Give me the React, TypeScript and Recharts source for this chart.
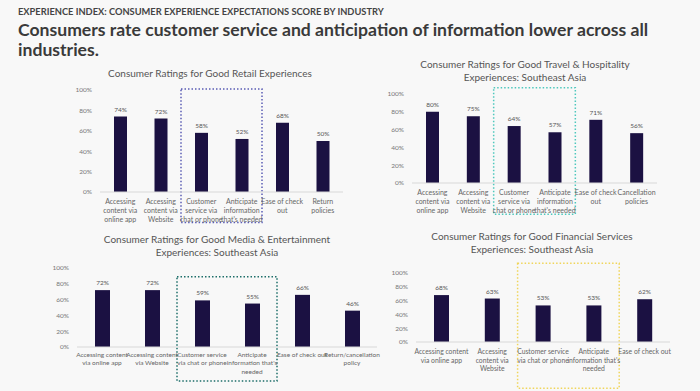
import { BarChart, Bar, XAxis, YAxis, LabelList, ReferenceArea } from "recharts";

const header = "EXPERIENCE INDEX: CONSUMER EXPERIENCE EXPECTATIONS SCORE BY INDUSTRY";
const headline = [
  "Consumers rate customer service and anticipation of information lower across all",
  "industries.",
];

const yTicks = [0, 20, 40, 60, 80, 100];

const retailTitle = ["Consumer Ratings for Good Retail Experiences"];
const retailCategories = [
  "Accessing\ncontent via\nonline app",
  "Accessing\ncontent via\nWebsite",
  "Customer\nservice via\nchat or phone",
  "Anticipate\ninformation\nthat's needed",
  "Ease of check\nout",
  "Return\npolicies",
];
const retailValues = [74, 72, 58, 52, 68, 50];

const travelTitle = ["Consumer Ratings for Good Travel & Hospitality", "Experiences: Southeast Asia"];
const travelCategories = [
  "Accessing\ncontent via\nonline app",
  "Accessing\ncontent via\nWebsite",
  "Customer\nservice via\nchat or phone",
  "Anticipate\ninformation\nthat's needed",
  "Ease of check\nout",
  "Cancellation\npolicies",
];
const travelValues = [80, 75, 64, 57, 71, 56];

const mediaTitle = ["Consumer Ratings for Good Media & Entertainment", "Experiences: Southeast Asia"];
const mediaCategories = [
  "Accessing content\nvia online app",
  "Accessing content\nvia Website",
  "Customer service\nvia chat or phone",
  "Anticipate\ninformation that's\nneeded",
  "Ease of check out",
  "Return/cancellation\npolicy",
];
const mediaValues = [72, 72, 59, 55, 66, 46];

const financeTitle = ["Consumer Ratings for Good Financial Services", "Experiences: Southeast Asia"];
const financeCategories = [
  "Accessing content\nvia online app",
  "Accessing\ncontent via\nWebsite",
  "Customer service\nvia chat or phone",
  "Anticipate\ninformation that's\nneeded",
  "Ease of check out",
];
const financeValues = [68, 63, 53, 53, 62];

const FONT = "Lato, 'Open Sans', sans-serif";
const BAR_COLOR = "#1b1142";

interface PanelProps {
  title: string[];
  categories: string[];
  values: number[];
  left: number;
  top: number;
  width: number;
  height: number;
  margin: { top: number; right: number; left: number; bottom: number };
  xHeight: number;
  barSize: number;
  tickOffset: number;
  lineGap: number;
  tickFont: number;
  boxColor: string;
  boxY: [number, number];
  titleX: number;
  titleY: number;
}

function Panel(p: PanelProps) {
  const data = p.categories.map((c, i) => ({ name: c, value: p.values[i] }));

  const CatTick = ({ x, y, payload }: any) => {
    const lines = String(payload.value).split("\n");
    return (
      <text x={x} y={y + p.tickOffset} textAnchor="middle" fontSize={p.tickFont} fill="#666" fontFamily={FONT}>
        {lines.map((l, i) => (
          <tspan key={i} x={x} dy={i === 0 ? 0 : p.lineGap}>
            {l}
          </tspan>
        ))}
      </text>
    );
  };

  return (
    <>
      <div
        style={{
          position: "absolute",
          left: p.titleX - 150,
          top: p.titleY,
          width: 300,
          textAlign: "center",
          fontFamily: FONT,
          fontSize: 10,
          lineHeight: "13px",
          color: "#555",
        }}
      >
        {p.title.map((t, i) => (
          <div key={i}>{t}</div>
        ))}
      </div>
      <div style={{ position: "absolute", left: p.left, top: p.top }}>
        <BarChart width={p.width} height={p.height} data={data} margin={p.margin}>
          <XAxis
            dataKey="name"
            interval={0}
            tickLine={false}
            tickSize={0}
            tickMargin={0}
            height={p.xHeight}
            stroke="#d8d8d8"
            tick={<CatTick />}
          />
          <YAxis
            domain={[0, 100]}
            ticks={yTicks}
            width={30}
            axisLine={false}
            tickLine={false}
            tickFormatter={(v: number) => `${v}%`}
            tick={{ fontSize: 6.5, fill: "#777", fontFamily: FONT }}
          />
          <Bar dataKey="value" fill={BAR_COLOR} barSize={p.barSize} isAnimationActive={false}>
            <LabelList
              dataKey="value"
              position="top"
              offset={5}
              formatter={(v: any) => `${v}%`}
              style={{ fontSize: 6.5, fill: "#555", fontFamily: FONT }}
            />
          </Bar>
          <ReferenceArea
            x1={p.categories[2]}
            x2={p.categories[3]}
            y1={p.boxY[0]}
            y2={p.boxY[1]}
            ifOverflow="visible"
            fill="none"
            fillOpacity={0}
            stroke={p.boxColor}
            strokeWidth={1.5}
            strokeDasharray="1.5 2"
          />
        </BarChart>
      </div>
    </>
  );
}

export default function App() {
  return (
    <div
      style={{
        position: "absolute",
        left: 0,
        top: 0,
        width: 700,
        height: 391,
        background: "#f8f8f8",
        overflow: "hidden",
        fontFamily: FONT,
      }}
    >
      <div style={{ position: "absolute", left: 18, top: 6, fontSize: 9.3, fontWeight: 700, color: "#444" }}>
        {header}
      </div>
      <div
        style={{
          position: "absolute",
          left: 18,
          top: 20,
          fontSize: 17.6,
          fontWeight: 700,
          lineHeight: "20px",
          color: "#3a3a3a",
          width: 690,
        }}
      >
        {headline.map((t, i) => (
          <div key={i}>{t}</div>
        ))}
      </div>

      <Panel
        title={retailTitle}
        categories={retailCategories}
        values={retailValues}
        left={40}
        top={80}
        width={320}
        height={150}
        margin={{ top: 10, right: 17, left: 30, bottom: 0 }}
        xHeight={38}
        barSize={13}
        tickOffset={12}
        lineGap={9}
        tickFont={7}
        boxColor="#5a5cb4"
        boxY={[-30, 101]}
        titleX={210}
        titleY={67}
      />
      <Panel
        title={travelTitle}
        categories={travelCategories}
        values={travelValues}
        left={370}
        top={85}
        width={310}
        height={135}
        margin={{ top: 9, right: 23, left: 12, bottom: 0 }}
        xHeight={37}
        barSize={13}
        tickOffset={12}
        lineGap={9}
        tickFont={7}
        boxColor="#4ec8bd"
        boxY={[-35, 107]}
        titleX={525}
        titleY={58}
      />
      <Panel
        title={mediaTitle}
        categories={mediaCategories}
        values={mediaValues}
        left={30}
        top={258}
        width={360}
        height={130}
        margin={{ top: 10, right: 13, left: 17, bottom: 0 }}
        xHeight={41}
        barSize={15}
        tickOffset={10}
        lineGap={8.3}
        tickFont={6.5}
        boxColor="#1d6e69"
        boxY={[-43, 89]}
        titleX={217}
        titleY={233}
      />
      <Panel
        title={financeTitle}
        categories={financeCategories}
        values={financeValues}
        left={370}
        top={258}
        width={320}
        height={133}
        margin={{ top: 15, right: 20, left: 16, bottom: 0 }}
        xHeight={49}
        barSize={15}
        tickOffset={12}
        lineGap={8.5}
        tickFont={6.8}
        boxColor="#f0d55a"
        boxY={[-67, 114]}
        titleX={532}
        titleY={230}
      />
    </div>
  );
}
